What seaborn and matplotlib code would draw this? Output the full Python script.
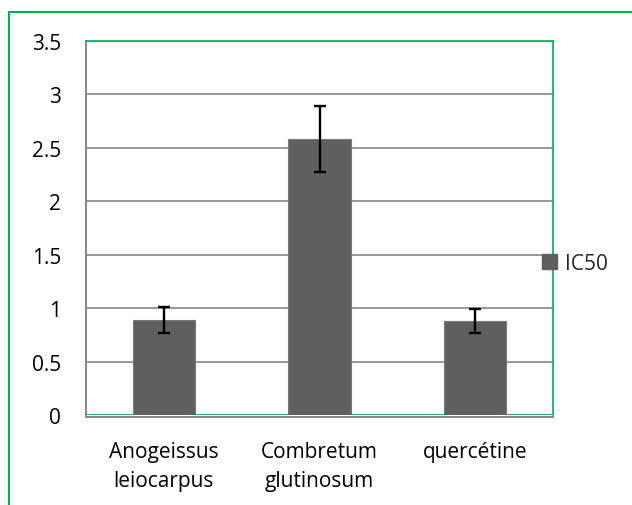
import matplotlib
matplotlib.use('Agg')
import matplotlib.pyplot as plt
import seaborn as sns
from matplotlib.lines import Line2D
from matplotlib.patches import Patch

# Data
categories = ['Anogeissus\nleiocarpus', 'Combretum\nglutinosum', 'quercétine']
ic50 = [0.89, 2.58, 0.88]
ic50_err = [0.12, 0.31, 0.11]
y_ticks = [0, 0.5, 1, 1.5, 2, 2.5, 3, 3.5]
y_tick_labels = ['0', '0.5', '1', '1.5', '2', '2.5', '3', '3.5']

green = '#00b050'
grey = '#868686'
bar_color = '#5f5f5f'
fs = 15

sns.set_style('white')
plt.rcParams['font.family'] = ['Open Sans', 'DejaVu Sans']

W, H = 632, 506
fig = plt.figure(figsize=(W / 100, H / 100), dpi=100)
ax = fig.add_axes([86 / W, 1 - 416 / H, (553 - 86) / W, (416 - 42) / H])

sns.barplot(x=list(range(len(categories))), y=ic50, color=bar_color, width=0.4,
            saturation=1, edgecolor='#7a7a7a', linewidth=0.8, ax=ax, zorder=3)
ax.errorbar(range(len(categories)), ic50, yerr=ic50_err, fmt='none',
            ecolor='black', elinewidth=1.7, capsize=4, capthick=1.7, zorder=4)

ax.set_xlim(-0.5, len(categories) - 0.5)
ax.set_ylim(0, 3.5)
ax.set_yticks(y_ticks)
ax.set_yticklabels(y_tick_labels)
ax.yaxis.grid(True, color=grey, linewidth=1.2, zorder=0)
ax.set_axisbelow(True)

ax.set_xticks(range(len(categories)))
ax.set_xticklabels(categories)
ax.set_xticks([-0.5, 0.5, 1.5, 2.5], minor=True)
ax.tick_params(axis='x', which='major', length=0, pad=17, labelsize=fs, colors='black')
ax.tick_params(axis='x', which='minor', length=7, width=1.2, color=grey, direction='out')
ax.tick_params(axis='y', length=7, width=1.2, color=grey, direction='out', pad=11,
               labelsize=fs, labelcolor='black')

for side in ['top', 'right']:
    ax.spines[side].set_color(green)
    ax.spines[side].set_linewidth(1.2)
ax.spines['left'].set_color(grey)
ax.spines['left'].set_linewidth(1.4)
ax.spines['bottom'].set_color(grey)
ax.spines['bottom'].set_linewidth(1.4)
ax.spines['bottom'].set_position(('outward', 1.5))
ax.axhline(0, color=green, linewidth=1.2, zorder=2)
ax.set_xlabel('')
ax.set_ylabel('')

# legend
fig.legend(handles=[Patch(facecolor=bar_color, edgecolor=bar_color, label='IC50')],
           loc='center left', bbox_to_anchor=(542 / W, 1 - 264 / H), frameon=False,
           handlelength=0.7, handleheight=0.7, handletextpad=0.4, borderpad=0,
           borderaxespad=0, fontsize=fs)

# outer chart border
fig.add_artist(Line2D([9 / W, 9 / W], [0, 1 - 13 / H], color=green, linewidth=1.5))
fig.add_artist(Line2D([9 / W, 1], [1 - 13 / H, 1 - 13 / H], color=green, linewidth=1.5))

# wider line spacing for the two-line category labels
fig.canvas.draw()
for t in ax.get_xticklabels():
    t.set_linespacing(1.5)

fig.savefig('out.png', dpi=100)
